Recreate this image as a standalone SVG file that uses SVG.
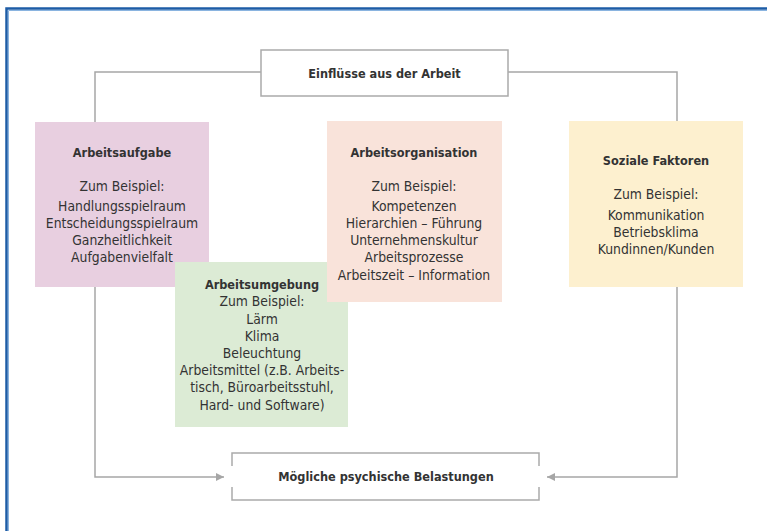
<svg xmlns="http://www.w3.org/2000/svg" width="767" height="531" viewBox="0 0 767 531">
<defs>
<style>
text{font-family:"Liberation Sans Narrow","DejaVu Sans Condensed","Liberation Sans",sans-serif;font-size:13.8px;fill:#333;text-anchor:middle}
.b{font-weight:bold;font-size:12.6px}
.box{stroke:#aaa;stroke-width:1.5;fill:#fff}
.con{stroke:#a6a6a6;stroke-width:1.5;fill:none}
</style>
<marker id="ah" viewBox="0 0 10 10" refX="10" refY="5" markerWidth="8" markerHeight="8" markerUnits="userSpaceOnUse" orient="auto"><path d="M0,0 L10,5 L0,10 Z" fill="#a6a6a6"/></marker>
</defs>
<rect width="767" height="531" fill="#fff"/>
<path d="M6.5,531 V8.5 H767" fill="none" stroke="#1d5ca6" stroke-width="2.5"/>
<path d="M8.5,531 V10.5 H767" fill="none" stroke="#8ab4e0" stroke-width="1"/>
<g id="connectors">
<path class="con" d="M261,72 H95 V477 H224" marker-end="url(#ah)"/>
<path class="con" d="M508,72 H677 V477 H547" marker-end="url(#ah)"/>
</g>
<g id="top">
<rect class="box" x="261" y="50" width="247" height="46"/>
<text class="b" x="384.5" y="78">Einflüsse aus der Arbeit</text>
</g>
<g id="bottom">
<path class="box" d="M232,466 V453 H539 V466 M232,487 V500 H539 V487" fill="none"/>
<text class="b" x="386" y="481">Mögliche psychische Belastungen</text>
</g>
<g id="arbeitsaufgabe">
<rect x="35" y="122" width="174" height="165" fill="#e8cfe0"/>
<text class="b" x="122" y="157">Arbeitsaufgabe</text>
<text x="122" y="191">Zum Beispiel:</text>
<text x="122" y="211">Handlungsspielraum</text>
<text x="122" y="228">Entscheidungsspielraum</text>
<text x="122" y="245">Ganzheitlichkeit</text>
<text x="122" y="262">Aufgabenvielfalt</text>
</g>
<g id="arbeitsumgebung">
<rect x="175" y="262" width="173" height="165" fill="#dcebd5"/>
<text class="b" x="262" y="289">Arbeitsumgebung</text>
<text x="262" y="306">Zum Beispiel:</text>
<text x="262" y="324">Lärm</text>
<text x="262" y="341">Klima</text>
<text x="262" y="358">Beleuchtung</text>
<text x="262" y="375">Arbeitsmittel (z.B. Arbeits-</text>
<text x="262" y="392">tisch, Büroarbeitsstuhl,</text>
<text x="262" y="410">Hard- und Software)</text>
</g>
<g id="arbeitsorganisation">
<rect x="327" y="121" width="175" height="181" fill="#f9e3da"/>
<text class="b" x="414" y="157">Arbeitsorganisation</text>
<text x="414" y="191">Zum Beispiel:</text>
<text x="414" y="211">Kompetenzen</text>
<text x="414" y="228">Hierarchien – Führung</text>
<text x="414" y="245">Unternehmenskultur</text>
<text x="414" y="262">Arbeitsprozesse</text>
<text x="414" y="280">Arbeitszeit – Information</text>
</g>
<g id="soziale">
<rect x="569" y="121" width="174" height="166" fill="#fdf0cf"/>
<text class="b" x="656" y="165">Soziale Faktoren</text>
<text x="656" y="199">Zum Beispiel:</text>
<text x="656" y="220">Kommunikation</text>
<text x="656" y="237">Betriebsklima</text>
<text x="656" y="254">Kundinnen/Kunden</text>
</g>
</svg>
